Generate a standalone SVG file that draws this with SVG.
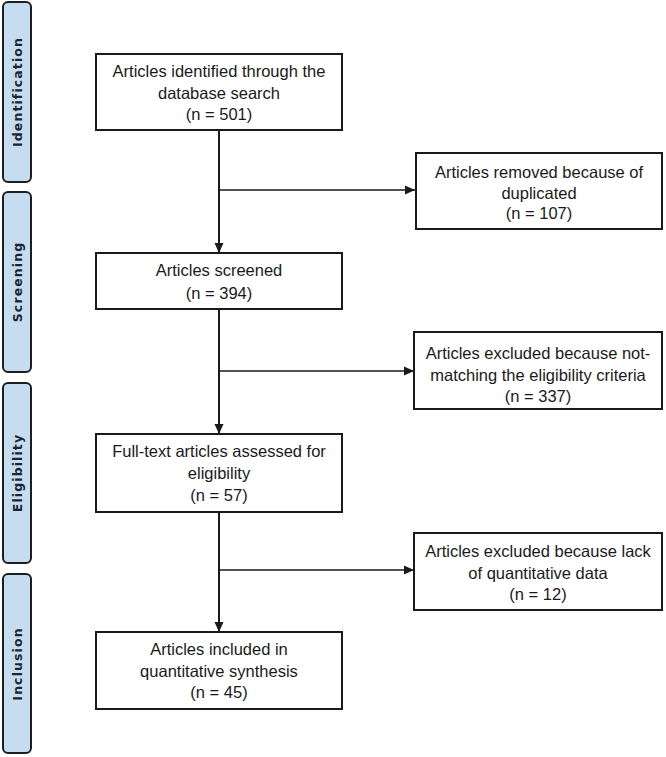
<svg xmlns="http://www.w3.org/2000/svg" width="666" height="757" viewBox="0 0 666 757">
<style>
.bar{fill:#c6dcf0;stroke:#1e1e1e;stroke-width:2}
.bl{font-family:"DejaVu Sans",sans-serif;font-weight:bold;font-size:12.5px;letter-spacing:1.1px;fill:#1c2530;text-anchor:middle}
.box{fill:#fff;stroke:#1a1a1a;stroke-width:2}
.t{font-family:"Liberation Sans",Arial,sans-serif;font-size:16.5px;fill:#1a1a1a;text-anchor:middle}
.v{stroke:#1a1a1a;stroke-width:2;fill:none}
.h{stroke:#1a1a1a;stroke-width:1.5;fill:none}
</style>
<defs>
<marker id="ah" viewBox="0 0 10 10" refX="10" refY="5" markerWidth="10" markerHeight="10" markerUnits="userSpaceOnUse" orient="auto">
<path d="M0,0.5 L10,5 L0,9.5 Z" fill="#1a1a1a"/>
</marker>
</defs>
<rect width="666" height="757" fill="#fff"/>
<g id="stage-identification">
<rect class="bar" x="3" y="2" width="28" height="180" rx="5"/>
<text class="bl" transform="translate(22,92) rotate(-90)">Identification</text>
</g>
<g id="stage-screening">
<rect class="bar" x="3" y="192" width="28" height="180" rx="5"/>
<text class="bl" transform="translate(22,282) rotate(-90)">Screening</text>
</g>
<g id="stage-eligibility">
<rect class="bar" x="3" y="383" width="28" height="180" rx="5"/>
<text class="bl" transform="translate(22,473) rotate(-90)">Eligibility</text>
</g>
<g id="stage-inclusion">
<rect class="bar" x="3" y="574" width="28" height="179" rx="5"/>
<text class="bl" transform="translate(22,664) rotate(-90)">Inclusion</text>
</g>
<g id="connectors">
<line class="v" x1="219" y1="130" x2="219" y2="253" marker-end="url(#ah)"/>
<line class="h" x1="219" y1="190" x2="415" y2="190" marker-end="url(#ah)"/>
<line class="v" x1="219" y1="309" x2="219" y2="434" marker-end="url(#ah)"/>
<line class="h" x1="219" y1="371" x2="414" y2="371" marker-end="url(#ah)"/>
<line class="v" x1="219" y1="512" x2="219" y2="632" marker-end="url(#ah)"/>
<line class="h" x1="219" y1="570" x2="414" y2="570" marker-end="url(#ah)"/>
</g>
<g id="identified">
<rect class="box" x="96" y="54" width="246" height="76"/>
<text class="t" x="219" y="77">Articles identified through the</text>
<text class="t" x="219" y="99">database search</text>
<text class="t" x="219" y="120">(n = 501)</text>
</g>
<g id="duplicates">
<rect class="box" x="416" y="153" width="246" height="76"/>
<text class="t" x="539" y="178">Articles removed because of</text>
<text class="t" x="539" y="199">duplicated</text>
<text class="t" x="539" y="219">(n = 107)</text>
</g>
<g id="screened">
<rect class="box" x="96" y="253" width="246" height="56"/>
<text class="t" x="219" y="276">Articles screened</text>
<text class="t" x="219" y="299">(n = 394)</text>
</g>
<g id="excluded-criteria">
<rect class="box" x="414" y="332" width="248" height="77"/>
<text class="t" x="538" y="359">Articles excluded because not-</text>
<text class="t" x="538" y="381">matching the eligibility criteria</text>
<text class="t" x="538" y="402">(n = 337)</text>
</g>
<g id="fulltext">
<rect class="box" x="96" y="434" width="246" height="78"/>
<text class="t" x="219" y="457">Full-text articles assessed for</text>
<text class="t" x="219" y="479">eligibility</text>
<text class="t" x="219" y="501">(n = 57)</text>
</g>
<g id="excluded-data">
<rect class="box" x="414" y="533" width="248" height="77"/>
<text class="t" x="538" y="557">Articles excluded because lack</text>
<text class="t" x="538" y="579">of quantitative data</text>
<text class="t" x="538" y="600">(n = 12)</text>
</g>
<g id="included">
<rect class="box" x="96" y="632" width="246" height="77"/>
<text class="t" x="219" y="655">Articles included in</text>
<text class="t" x="219" y="677">quantitative synthesis</text>
<text class="t" x="219" y="698">(n = 45)</text>
</g>
</svg>
